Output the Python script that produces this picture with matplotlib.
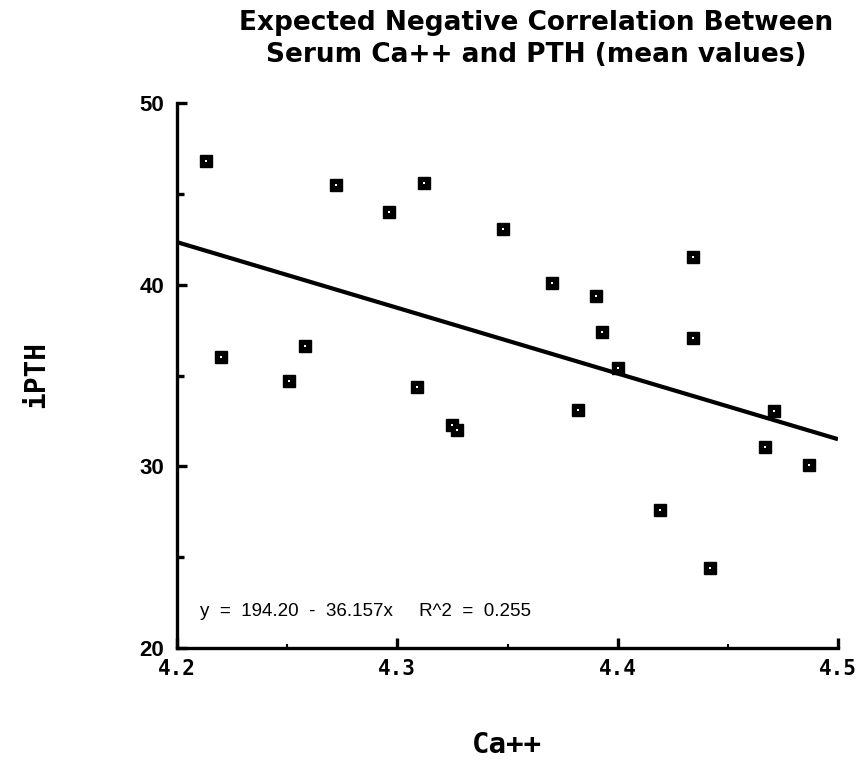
import numpy as np
import matplotlib
matplotlib.use("Agg")
import matplotlib.pyplot as plt
from matplotlib.ticker import MultipleLocator

# mean serum Ca++ vs iPTH
ca = [4.213, 4.220, 4.251, 4.258, 4.272, 4.296, 4.309, 4.312, 4.325, 4.327,
      4.348, 4.370, 4.382, 4.390, 4.393, 4.400, 4.419, 4.434, 4.434, 4.442,
      4.467, 4.471, 4.487]
pth = [46.8, 36.0, 34.7, 36.6, 45.5, 44.0, 34.35, 45.6, 32.3, 32.0,
       43.05, 40.1, 33.1, 39.4, 37.4, 35.4, 27.6, 41.55, 37.05, 24.4,
       31.05, 33.05, 30.1]

# fitted line from the chart's equation
intercept = 194.20
slope = -36.157
r2 = 0.255

x_ticks = [4.2, 4.3, 4.4, 4.5]
y_ticks = [20, 30, 40, 50]

fig = plt.figure(figsize=(8.56, 7.61), dpi=100)
ax = fig.add_axes([177/856, 1 - 648/761, (838 - 177)/856, (648 - 103)/761])

line_x = np.array([4.2, 4.5])
ax.plot(line_x, intercept + slope * line_x, color='black', lw=3, solid_capstyle='butt')
# dark squares with a small light speck in the middle
ax.plot(ca, pth, linestyle='none', marker='s', markersize=9.2,
        markerfacecolor='black', markeredgecolor='black', markeredgewidth=1)
ax.plot(ca, pth, linestyle='none', marker='s', markersize=2,
        markerfacecolor='white', markeredgewidth=0)

ax.set_xlim(4.2, 4.5)
ax.set_ylim(20, 50)
ax.spines['top'].set_visible(False)
ax.spines['right'].set_visible(False)
for s in ['left', 'bottom']:
    ax.spines[s].set_linewidth(2.4)

ax.set_xticks(x_ticks)
ax.set_yticks(y_ticks)
ax.xaxis.set_minor_locator(MultipleLocator(0.05))
ax.yaxis.set_minor_locator(MultipleLocator(5))
ax.tick_params(axis='both', which='major', direction='in', length=7, width=2.4)
ax.tick_params(axis='x', which='minor', direction='in', length=3, width=1.5)
ax.tick_params(axis='y', which='minor', direction='in', length=5, width=2.4)
ax.tick_params(axis='x', which='major', pad=8)
ax.tick_params(axis='y', which='major', pad=9)

mono = {'family': 'DejaVu Sans Mono', 'weight': 'bold', 'size': 15}
ax.set_xticklabels([f"{v:.1f}" for v in x_ticks], fontdict=mono)
ax.set_yticklabels([str(v) for v in y_ticks],
                   fontdict={'family': 'Liberation Sans', 'weight': 'bold', 'size': 16})

fig.text(507/856, 1 - 745/761, "Ca++", ha='center', va='center',
         fontdict={'family': 'DejaVu Sans Mono', 'weight': 'bold', 'size': 21})
fig.text(36/856, 1 - 375/761, "iPTH", ha='center', va='center', rotation=90,
         fontdict={'family': 'DejaVu Sans Mono', 'weight': 'bold', 'size': 20})

fig.text(536/856, 1 - 39/761,
         "Expected Negative Correlation Between\nSerum Ca++ and PTH (mean values)",
         ha='center', va='center', linespacing=1.3,
         fontdict={'family': 'DejaVu Sans', 'weight': 'bold', 'size': 19})

ax.text(4.2105, 21.75, f"y  =  {intercept:.2f}  -  {abs(slope):.3f}x     R^2  =  {r2:.3f}",
        fontdict={'family': 'Liberation Sans', 'size': 13.5})

fig.savefig("out.png", dpi=100)
